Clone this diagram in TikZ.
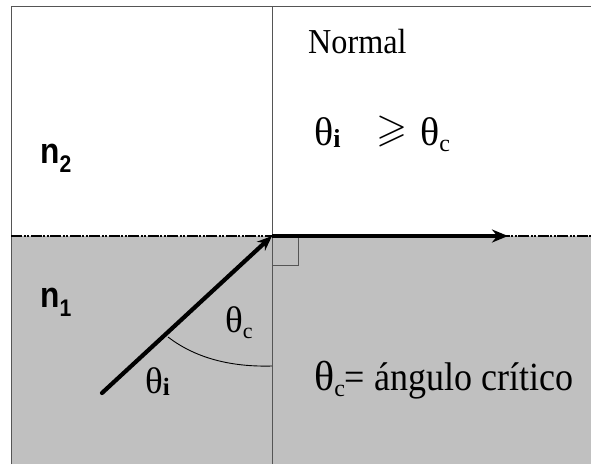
\documentclass[tikz,border=0pt]{standalone}
\usepackage{fontspec}
\usepackage{amssymb}
\usepackage{graphicx}
\setmainfont{Liberation Serif}
\newfontfamily\sansbold{Liberation Sans}
\usetikzlibrary{arrows.meta}
\definecolor{glass}{HTML}{C0C0C0}
\definecolor{frameline}{HTML}{555555}
\begin{document}
\begin{tikzpicture}[x=1pt,y=-1pt,
  frame/.style={draw=frameline, line width=1pt},
  ray/.style={line width=4.2pt, line cap=round, -{Stealth[length=15pt,width=12pt]}},
  refl/.style={line width=3.2pt, -{Stealth[length=16pt,width=13pt]}},
  iface/.style={line width=1.4pt, dash pattern=on 11pt off 1.5pt on 2pt off 1.5pt on 2pt off 1.5pt},
  lbl/.style={inner sep=0pt, anchor=base west},
  nlbl/.style={inner sep=0pt, anchor=base west, font=\sansbold\bfseries}]
\useasboundingbox (0,0) rectangle (591,464);
% media
\fill[glass] (11,236) rectangle (591,464);
% frame
\draw[frame] (11,464) -- (11,6) -- (591,6);
% normal
\draw[frame] (272,6) -- (272,464);
% interface
\draw[iface] (11,236) -- (591,236);
% right angle mark
\draw[frame] (272,265) -- (298,265) -- (298,236);
% points
\coordinate (O) at (272,236);
\coordinate (S) at (102,393);
\coordinate (T) at (508,236);
\coordinate (A1) at (168,337);
\coordinate (A2) at (272,366);
% angle arc
\draw[line width=0.9pt] (A1) .. controls (198,360) and (235,367) .. (A2);
% rays
\draw[refl] (O) -- (T);
\draw[ray] (S) -- (O);
% labels
\node[lbl] (normal) at (308,53) {\scalebox{0.92}[1]{\fontsize{35}{38}\selectfont Normal}};
\node[lbl] (thi) at (314,145) {\fontsize{40}{44}\selectfont θ\raisebox{-2pt}{\fontsize{26}{28}\selectfont\bfseries i}};
\node[inner sep=0pt] (geq) at (392,131) {\fontsize{40}{44}\selectfont$\geqslant$};
\node[lbl] (thc) at (420,145) {\fontsize{40}{44}\selectfont θ\raisebox{-6pt}{\fontsize{24}{26}\selectfont c}};
\node[nlbl] (n2) at (40,163) {\scalebox{0.88}[1]{\fontsize{36}{40}\selectfont n\raisebox{-9pt}{\fontsize{24}{26}\selectfont 2}}};
\node[nlbl] (n1) at (40,307) {\scalebox{0.88}[1]{\fontsize{36}{40}\selectfont n\raisebox{-9pt}{\fontsize{24}{26}\selectfont 1}}};
\node[lbl] (angc) at (225,332) {\fontsize{37}{40}\selectfont θ\raisebox{-6pt}{\fontsize{22}{24}\selectfont c}};
\node[lbl] (angi) at (145,393) {\fontsize{37}{40}\selectfont θ\raisebox{-2pt}{\fontsize{25}{27}\selectfont\bfseries i}};
\node[lbl] (def) at (314,390) {\fontsize{42}{44}\selectfont θ\raisebox{-6pt}{\fontsize{24}{26}\selectfont c}\scalebox{0.9}[1]{\fontsize{40}{44}\selectfont = ángulo crítico}};
\end{tikzpicture}
\end{document}
